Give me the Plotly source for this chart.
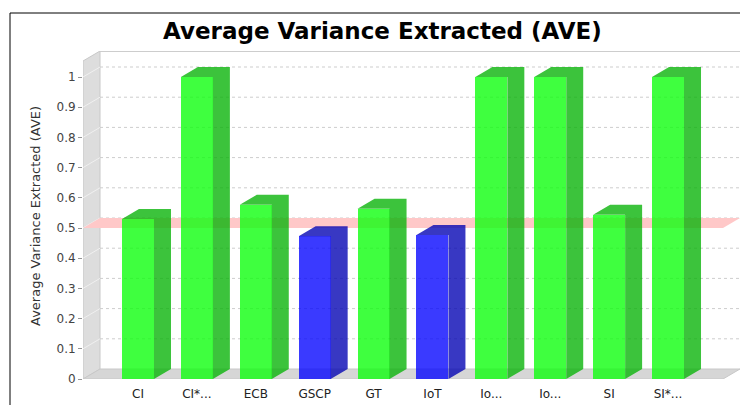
import plotly.graph_objects as go

# ---------------- data ----------------
categories = ["CI", "CI*...", "ECB", "GSCP", "GT", "IoT", "Io...", "Io...", "SI", "SI*..."]
ave_values = [0.53, 1.0, 0.577, 0.473, 0.564, 0.477, 1.0, 1.0, 0.544, 1.0]
threshold = 0.5
y_tick_values = [0, 0.1, 0.2, 0.3, 0.4, 0.5, 0.6, 0.7, 0.8, 0.9, 1.0]
y_tick_labels = ["0", "0.1", "0.2", "0.3", "0.4", "0.5", "0.6", "0.7", "0.8", "0.9", "1"]
chart_title = "Average Variance Extracted (AVE)"
y_title = "Average Variance Extracted (AVE)"

# ---------------- geometry (pixels) ----------------
W, H = 740, 405
PL, PT, PB = 83, 51, 379          # plot area left / top / bottom (px)
PR = W                            # plot area right
cat_px = 58.9                     # px per category
val_px = 302.0                    # px per unit of value
depth_x, depth_y = 17.0, 10.0     # 3D offset (px)
bar_px = 32.0
edge_px = 55.0                    # distance of first/last bar centre from front edge

dx = depth_x / cat_px
dy = depth_y / val_px
bw = bar_px / cat_px
n = len(categories)
x0 = -edge_px / cat_px
x1 = (n - 1) + edge_px / cat_px
ytop = (PB - 61) / val_px
xr = [x0, x1 + dx]
yr = [0, ytop + dy]

def px_x(p):
    return (p - PL) / (PR - PL)

def px_y(p):
    return (PB - p) / (PB - PT)

# colours
GREEN_FRONT, GREEN_DARK = "rgb(16,255,16)", "rgba(11,180,11,0.8)"
BLUE_FRONT, BLUE_DARK = "rgb(9,9,255)", "rgba(6,6,180,0.8)"

front_cols = [GREEN_FRONT if v >= threshold else BLUE_FRONT for v in ave_values]

fig = go.Figure()

# front faces
fig.add_trace(go.Bar(
    x=list(range(n)), y=ave_values, width=bw,
    marker=dict(color=front_cols, line=dict(width=0)),
    opacity=0.8, hoverinfo="x+y", showlegend=False,
))

# side + top faces
for col_key, dark in ((True, GREEN_DARK), (False, BLUE_DARK)):
    xs, ys = [], []
    for i, v in enumerate(ave_values):
        if (v >= threshold) != col_key:
            continue
        l, r = i - bw / 2, i + bw / 2
        # side
        xs += [r, r + dx, r + dx, r, r, None]
        ys += [0, dy, v + dy, v, 0, None]
        # top
        xs += [l, r, r + dx, l + dx, l, None]
        ys += [v, v, v + dy, v + dy, v, None]
    fig.add_trace(go.Scatter(
        x=xs, y=ys, mode="lines", fill="toself", fillcolor=dark,
        line=dict(width=0), hoverinfo="skip", showlegend=False,
    ))

shapes = []

def poly(pts):
    return "M " + " L ".join(f"{a},{b}" for a, b in pts) + " Z"

# left wall
shapes.append(dict(type="path", xref="x", yref="y", layer="below",
                   path=poly([(x0, 0), (x0 + dx, dy), (x0 + dx, ytop + dy), (x0, ytop)]),
                   fillcolor="rgb(221,221,221)", line=dict(color="rgb(200,200,200)", width=1)))
# floor
shapes.append(dict(type="path", xref="x", yref="y", layer="below",
                   path=poly([(x0, 0), (x1, 0), (x1 + dx, dy), (x0 + dx, dy)]),
                   fillcolor="rgb(214,214,214)", line=dict(color="rgb(200,200,200)", width=1)))
# gridlines
for v in y_tick_values[1:]:
    shapes.append(dict(type="line", xref="x", yref="y", layer="below",
                       x0=x0 + dx, x1=x1 + dx, y0=v + dy, y1=v + dy,
                       line=dict(color="rgb(205,205,205)", width=1, dash="3px,3px")))
    shapes.append(dict(type="line", xref="x", yref="y", layer="below",
                       x0=x0, x1=x0 + dx, y0=v, y1=v + dy,
                       line=dict(color="rgb(240,240,240)", width=1)))
# back wall top edge
shapes.append(dict(type="line", xref="x", yref="y", layer="below",
                   x0=x0 + dx, x1=x1 + dx, y0=ytop + dy, y1=ytop + dy,
                   line=dict(color="rgb(205,205,205)", width=2)))
# threshold band
shapes.append(dict(type="path", xref="x", yref="y", layer="below",
                   path=poly([(x0, threshold), (x1, threshold), (x1 + dx, threshold + dy), (x0 + dx, threshold + dy)]),
                   fillcolor="rgb(255,200,200)", line=dict(width=0)))
# chart border
shapes.append(dict(type="rect", xref="paper", yref="paper", layer="above",
                   x0=px_x(10), x1=px_x(780), y0=px_y(440), y1=px_y(13),
                   line=dict(color="black", width=1), fillcolor="rgba(0,0,0,0)"))

annotations = [
    dict(text=f"<b>{chart_title}</b>", xref="paper", yref="paper",
         x=px_x(382), y=px_y(31), xanchor="center", yanchor="middle", showarrow=False,
         font=dict(family="DejaVu Sans", size=23, color="black")),
    dict(text=y_title, xref="paper", yref="paper", textangle=-90,
         x=px_x(35), y=px_y(216), xanchor="center", yanchor="middle", showarrow=False,
         font=dict(family="DejaVu Sans", size=13, color="#333333")),
]

fig.update_layout(
    width=W, height=H,
    margin=dict(l=PL, r=W - PR, t=PT, b=H - PB, pad=0),
    paper_bgcolor="white", plot_bgcolor="white",
    shapes=shapes, annotations=annotations,
    showlegend=False, bargap=0,
    xaxis=dict(range=xr, tickmode="array", tickvals=list(range(n)), ticktext=categories,
               showgrid=False, zeroline=False, showline=False, ticks="", ticklabelstandoff=6,
               tickfont=dict(family="DejaVu Sans", size=12, color="#222222"), fixedrange=True),
    yaxis=dict(range=yr, tickmode="array", tickvals=y_tick_values, ticktext=y_tick_labels,
               showgrid=False, zeroline=False, showline=False, ticks="outside", ticklen=4,
               tickcolor="rgb(150,150,150)",
               tickfont=dict(family="DejaVu Sans", size=12, color="#444444"), fixedrange=True),
)

fig.write_html("out.html", config={"displayModeBar": False},
               post_script="document.body.style.margin='0';document.body.style.overflow='hidden';")
